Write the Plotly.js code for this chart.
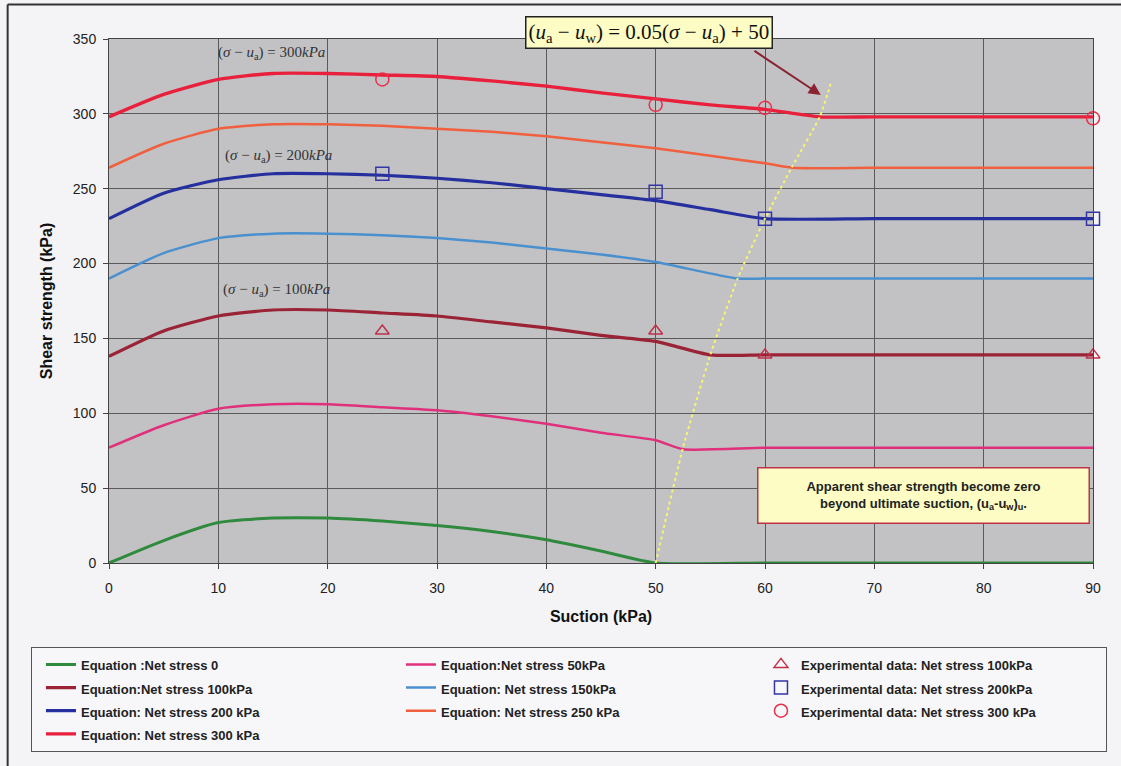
<!DOCTYPE html>
<html>
<head>
<meta charset="utf-8">
<script src="https://cdn.plot.ly/plotly-3.0.1.min.js"></script>
<style>
html,body{margin:0;padding:0;background:#f4f4f6;}
#chart{width:1121px;height:766px;}
</style>
</head>
<body>
<div id="chart"></div>
<script>
// ---- data ----
const suction0   = [0,5,10,15,20,25,30,35,40,45,50,60,70,80,90];
const strength0  = [0,15,27,30,30,28,25,21,15.5,8,0,0,0,0,0];

const suction50  = [0,5,10,15,20,25,30,35,40,45,50,52.5,60,70,80,90];
const strength50 = [77,92,103,106,106,104,102,98,93,87,82,76,77,77,77,77];

const suction100  = [0,5,10,15,20,25,30,35,40,45,50,55,60,70,80,90];
const strength100 = [138,155,165,169,169,167,165,161,157,152,148,139,139,139,139,139];

const suction150  = [0,5,10,15,20,25,30,35,40,45,50,57.5,60,70,80,90];
const strength150 = [190,207,217,220,220,219,217,214,210,206,201,190,190,190,190,190];

const suction200  = [0,5,10,15,20,25,30,35,40,45,50,55,60,70,80,90];
const strength200 = [230,247,256,260,260,259,257,254,250,246,242,236,230,230,230,230];

const suction250  = [0,5,10,15,20,25,30,35,40,45,50,55,60,62.5,70,80,90];
const strength250 = [264,280,290,293,293,292,290,288,285,281,277,272,267,264,264,264,264];

const suction300  = [0,5,10,15,20,25,30,35,40,45,50,55,60,65,70,80,90];
const strength300 = [298,313,323,327,327,326,325,322,318.5,314,310,306,303,298,298,298,298];

const ultSuction  = [50,52.5,55,57.5,60,62.5,65,66];
const ultStrength = [0,77,139,190,230,265,298,320];

const expSuction  = [25,50,60,90];
const exp100 = [155,155,139,139];
const exp200 = [260,248,230,230];
const exp300 = [323,306,304,297];

const seriesNames = [
  'Equation :Net stress 0','Equation:Net stress 50kPa','Equation:Net stress 100kPa',
  'Equation: Net stress 150kPa','Equation: Net stress 200 kPa','Equation: Net stress 250 kPa',
  'Equation: Net stress 300 kPa','Experimental data: Net stress 100kPa',
  'Experimental data: Net stress 200kPa','Experimental data: Net stress 300 kPa'
];
const xTickVals = [0,10,20,30,40,50,60,70,80,90];
const yTickVals = [0,50,100,150,200,250,300,350];

// ---- styling ----
const lf = n => '<span style="font-size:13px">' + n + '</span>';
function eq(x, y, name, color, width, group) {
  return {x: x, y: y, name: lf(name), type: 'scatter', mode: 'lines',
    line: {color: color, width: width, shape: 'spline', smoothing: 0.6},
    legendgroup: group, hoverinfo: 'skip'};
}
function ex(y, name, color, symbol, size, group) {
  return {x: expSuction, y: y, name: lf(name), type: 'scatter', mode: 'markers',
    marker: {symbol: symbol, size: size, color: color, line: {color: color, width: 1.5}},
    legendgroup: group, legendwidth: 300, cliponaxis: false, hoverinfo: 'skip'};
}

const data = [
  eq(suction0, strength0, seriesNames[0], '#2f8a3e', 3, 'c1'),
  eq(suction50, strength50, seriesNames[1], '#e0307c', 2.5, 'c2'),
  eq(suction100, strength100, seriesNames[2], '#9b2336', 3.2, 'c1'),
  eq(suction150, strength150, seriesNames[3], '#4a90cf', 2.5, 'c2'),
  eq(suction200, strength200, seriesNames[4], '#25309e', 3.2, 'c1'),
  eq(suction250, strength250, seriesNames[5], '#f0603e', 2.5, 'c2'),
  eq(suction300, strength300, seriesNames[6], '#e8203c', 3.4, 'c1'),
  {x: ultSuction, y: ultStrength, type: 'scatter', mode: 'lines', showlegend: false,
   line: {color: '#f5f570', width: 2, dash: 'dot', shape: 'spline', smoothing: 0.6}, hoverinfo: 'skip'},
  ex(exp100, seriesNames[7], '#c0304a', 'triangle-up-open', 12, 'c3'),
  ex(exp200, seriesNames[8], '#3535a5', 'square-open', 13, 'c3'),
  ex(exp300, seriesNames[9], '#e8304a', 'circle-open', 13, 'c3')
];

const serif = 'Liberation Serif, Times New Roman, serif';
const sans = 'Liberation Sans, Arial, sans-serif';

const layout = {
  width: 1121, height: 766,
  margin: {l: 109, r: 28, t: 39, b: 203},
  paper_bgcolor: '#f4f4f6',
  plot_bgcolor: '#c2c2c5',
  showlegend: true,
  font: {family: sans, color: '#222'},
  xaxis: {
    range: [0, 90], tickvals: xTickVals, ticktext: xTickVals.map(String),
    showgrid: true, gridcolor: '#5a5a5a', gridwidth: 1,
    showline: true, linecolor: '#444', linewidth: 1, mirror: true,
    ticks: 'outside', ticklen: 5, tickcolor: '#444', ticklabelstandoff: 7,
    tickfont: {family: sans, size: 14, color: '#222'},
    zeroline: false,
    title: {text: '<b>Suction (kPa)</b>', font: {family: sans, size: 16, color: '#111'}, standoff: 16}
  },
  yaxis: {
    range: [0, 350], tickvals: yTickVals, ticktext: yTickVals.map(String),
    showgrid: true, gridcolor: '#5a5a5a', gridwidth: 1,
    showline: true, linecolor: '#444', linewidth: 1, mirror: true,
    ticks: 'outside', ticklen: 5, tickcolor: '#444', ticklabelstandoff: 4,
    tickfont: {family: sans, size: 14, color: '#222'},
    zeroline: false,
    title: {text: '<b>Shear strength (kPa)</b>', font: {family: sans, size: 16, color: '#111'}, standoff: 16}
  },
  legend: {
    orientation: 'h', traceorder: 'grouped', tracegroupgap: 0,
    x: -0.0793, xanchor: 'left', y: -0.160, yanchor: 'top',
    entrywidth: 305, entrywidthmode: 'pixels', indentation: 10,
    bgcolor: '#f7f7f9', bordercolor: '#555', borderwidth: 1,
    font: {family: sans, size: 15.5, color: '#222', weight: 'bold'},
    itemclick: false, itemdoubleclick: false
  },
  shapes: [
    {type: 'line', xref: 'paper', yref: 'paper', x0: -0.103, x1: 1.03, y0: 1.066, y1: 1.066,
     line: {color: '#333', width: 2}},
    {type: 'line', xref: 'paper', yref: 'paper', x0: -0.103, x1: -0.103, y0: 1.066, y1: -0.39,
     line: {color: '#333', width: 2}}
  ],
  annotations: [
    {x: 49.4, y: 1.0124, xref: 'x', yref: 'paper', xanchor: 'center', yanchor: 'middle', showarrow: false,
     text: '(<i>u</i><sub>a</sub> − <i>u</i><sub>w</sub>) = 0.05(<i>σ</i> − <i>u</i><sub>a</sub>) + 50',
     font: {family: serif, size: 21, color: '#111'},
     bgcolor: '#fcfcc4', bordercolor: '#222', borderwidth: 1.5, borderpad: 2},
    {x: 65.1, y: 312.6, xref: 'x', yref: 'y', ax: 58.9, ay: 342.7, axref: 'x', ayref: 'y',
     text: '', showarrow: true, arrowhead: 2, arrowsize: 1.2, arrowwidth: 2, arrowcolor: '#8b2232'},
    {x: 14.9, y: 340.5, xref: 'x', yref: 'y', showarrow: false,
     text: '(<i>σ</i> − <i>u</i><sub>a</sub>) = 300<i>kPa</i>', font: {family: serif, size: 15, color: '#333'}},
    {x: 15.5, y: 272, xref: 'x', yref: 'y', showarrow: false,
     text: '(<i>σ</i> − <i>u</i><sub>a</sub>) = 200<i>kPa</i>', font: {family: serif, size: 15, color: '#333'}},
    {x: 15.3, y: 182.5, xref: 'x', yref: 'y', showarrow: false,
     text: '(<i>σ</i> − <i>u</i><sub>a</sub>) = 100<i>kPa</i>', font: {family: serif, size: 15, color: '#333'}},
    {x: 74.5, y: 44.8, xref: 'x', yref: 'y', showarrow: false,
     text: '<b>Apparent shear strength become zero<br>beyond ultimate suction, (u<sub>a</sub>-u<sub>w</sub>)<sub>u</sub>.</b>',
     font: {family: sans, size: 13, color: '#222'}, align: 'center',
     width: 326, height: 50,
     bgcolor: '#fcfcc4', bordercolor: '#c0304a', borderwidth: 1.5, borderpad: 2}
  ]
};

Plotly.newPlot('chart', data, layout, {displayModeBar: false, staticPlot: true});
</script>
</body>
</html>
